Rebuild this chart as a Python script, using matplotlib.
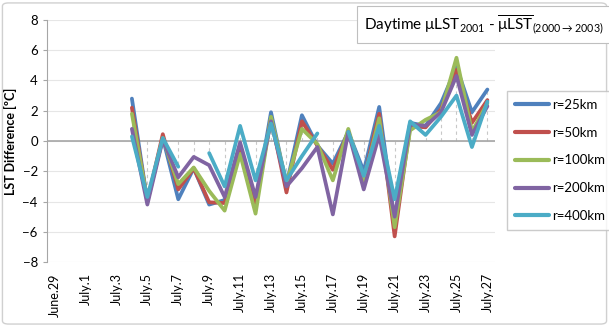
import numpy as np
import matplotlib
matplotlib.use("Agg")
import matplotlib.pyplot as plt
from matplotlib.patches import FancyBboxPatch

plt.rcParams['font.family'] = ['Lato', 'DejaVu Sans']
plt.rcParams['mathtext.default'] = 'regular'

# categories: June.29 .. July.27
days = ["June.29", "June.30"] + ["July.%d" % d for d in range(1, 28)]

nan = np.nan
pad = [nan] * 5  # June.29 - July.3 have no data

r25 = pad + [2.8, -4.0, 0.2, -3.85, -1.8, -4.2, -3.9, -0.5, -4.0, 1.9, -2.9, 1.7,
             -0.3, -1.5, 0.6, -2.0, 2.25, -5.3, 1.2, 1.0, 2.5, 4.9, 1.9, 3.4]
r50 = pad + [2.2, -4.0, 0.45, -3.2, -1.8, -4.05, -4.1, -0.6, -4.2, 1.5, -3.4, 1.3,
             -0.3, -1.9, 0.6, -2.5, 1.8, -6.3, 1.0, 0.9, 2.1, 4.7, 1.2, 2.7]
r100 = pad + [1.8, -3.9, 0.2, -2.85, -1.75, -3.3, -4.6, -0.85, -4.8, 1.6, -2.8, 0.8,
              -0.2, -2.6, 0.8, -2.7, 1.5, -5.7, 0.7, 1.4, 1.9, 5.5, 0.6, 2.5]
r200 = pad + [0.8, -4.2, 0.1, -2.4, -1.05, -1.6, -3.7, -0.1, -3.7, 1.3, -3.0, -1.8,
              -0.4, -4.85, 0.6, -3.2, 0.4, -5.0, 1.1, 1.0, 1.9, 4.3, 0.4, 2.3]
r400 = pad + [0.3, -3.7, 0.2, -1.7, nan, -0.8, -3.0, 1.0, -2.6, 1.15, -2.6, -1.0,
              0.5, nan, 0.6, -2.3, 1.0, -3.85, 1.3, 0.4, 1.6, 3.0, -0.4, 2.6]

series = [("r=25km", r25, "#4F81BD"),
          ("r=50km", r50, "#C0504D"),
          ("r=100km", r100, "#9BBB59"),
          ("r=200km", r200, "#8064A2"),
          ("r=400km", r400, "#4BACC6")]

fig = plt.figure(figsize=(6.09, 3.26), dpi=100)
ax = fig.add_axes([0.077, 0.196, 0.736, 0.743])

x = np.arange(len(days))

# drop lines from the axis to the highest point of each category
allv = np.array([s[1] for s in series], dtype=float)
top = np.nanmax(np.where(np.isnan(allv), -np.inf, allv), axis=0)
for i, t in enumerate(top):
    if np.isfinite(t):
        ax.plot([i, i], [0, t], color="#c8c8c8", lw=0.8, ls=(0, (3, 3)), zorder=1)

for name, vals, col in series:
    ax.plot(x, vals, color=col, lw=2.7, label=name, solid_capstyle="round",
            solid_joinstyle="round", zorder=3)

ax.set_xlim(-0.5, len(days) - 0.5)
ax.set_ylim(-8, 8)
ax.set_yticks(np.arange(-8, 9, 2))
ax.yaxis.grid(True, color="#e6e6e6", lw=0.8)
ax.set_axisbelow(True)
ax.axhline(0, color="#a6a6a6", lw=1.2, zorder=2)

ax.set_xticks(x[::2])
ax.set_xticklabels(days[::2], rotation=90, fontsize=9)
ax.tick_params(axis="x", length=0, pad=8)
ax.tick_params(axis="y", labelsize=9.5, length=3, color="#a6a6a6")

for s in ["top", "right", "bottom"]:
    ax.spines[s].set_visible(False)
ax.spines["left"].set_color("#a6a6a6")

ax.set_ylabel("LST Difference [ºC]", fontsize=9, fontweight="bold")

leg = fig.legend(loc="center left", bbox_to_anchor=(0.822, 0.508), fontsize=9.5,
                 frameon=True, fancybox=False, edgecolor="#bfbfbf",
                 handlelength=2.6, labelspacing=1.2, handletextpad=0.2,
                 borderpad=0.6)
for h in leg.get_lines():
    h.set_linewidth(3)

fig.text(0.597, 0.925,
         r"Daytime $\mu$LST$_{2001}$ - $\overline{\mu LST}_{(2000\rightarrow2003)}$",
         fontsize=11, va="center", ha="left",
         bbox=dict(boxstyle="square,pad=0.45", fc="white", ec="#bfbfbf", lw=0.8))

fig.patches.append(FancyBboxPatch((0.004, 0.006), 0.992, 0.985,
                                  boxstyle="round,pad=0,rounding_size=0.01",
                                  transform=fig.transFigure, fc="none",
                                  ec="#d0d0d0", lw=1))

fig.savefig("out.png", dpi=100)
